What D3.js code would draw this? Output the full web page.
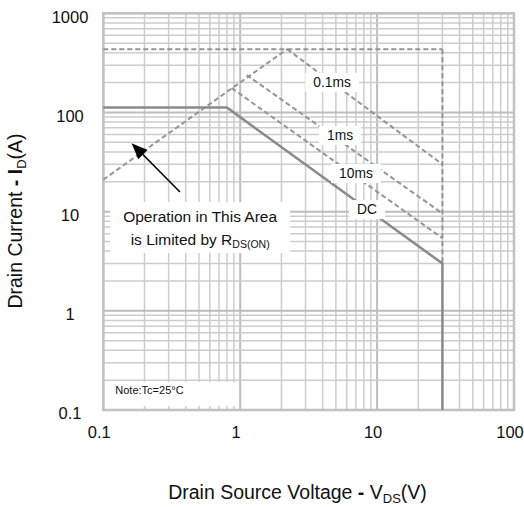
<!DOCTYPE html>
<html>
<head>
<meta charset="utf-8">
<script src="https://cdn.jsdelivr.net/npm/d3@7"></script>
<style>
  body { margin: 0; background: #fff; }
  svg { display: block; font-family: "Liberation Sans", Arial, sans-serif; }
</style>
</head>
<body>
<div id="wrapper"></div>
<script>
// tick labels
const xTickValues = [0.1, 1, 10, 100]
const yTickValues = [0.1, 1, 10, 100, 1000]

// SOA boundaries, [V, A]
const rdsLimit = [[0.1, 21], [2.2, 435]]
const currentLimit = [[0.1, 435], [30, 435]]
const voltageLimit = [[30, 435], [30, 3]]
const pulse01ms = [[2.2, 435], [30, 30]]
const pulse1ms = [[1.115, 239], [30, 9.6]]
const pulse10ms = [[0.867, 176], [30, 5.4]]
const dcLine = [[0.1, 112], [0.8, 112], [30, 3], [30, 0.1]]

// curve labels sit on their lines
const curveLabels = ["0.1ms", "1ms", "10ms", "DC"]
const curveLabelV = [4.69, 5.36, 7.01, 8.44]
const curveLabelI = [203, 59.3, 24.5, 10.6]

function drawSOA() {
  const dimensions = {
    width: 524,
    height: 507,
    margin: { top: 13.3, right: 10, bottom: 97, left: 103.3 },
  }
  dimensions.boundedWidth = dimensions.width - dimensions.margin.left - dimensions.margin.right
  dimensions.boundedHeight = dimensions.height - dimensions.margin.top - dimensions.margin.bottom

  const wrapper = d3.select("#wrapper")
    .append("svg")
      .attr("width", dimensions.width)
      .attr("height", dimensions.height)

  const bounds = wrapper.append("g")
      .attr("transform", `translate(${dimensions.margin.left},${dimensions.margin.top})`)

  // scales
  const xScale = d3.scaleLog()
    .domain([0.1, 100])
    .range([0, dimensions.boundedWidth])

  const yScale = d3.scaleLog()
    .domain([0.1, 1000])
    .range([dimensions.boundedHeight, 0])

  const isDecade = v => Math.abs(Math.log10(v) - Math.round(Math.log10(v))) < 1e-6

  // grid
  const grid = bounds.append("g")
  grid.selectAll(".vgrid")
    .data(xScale.ticks())
    .join("line")
      .attr("x1", d => xScale(d))
      .attr("x2", d => xScale(d))
      .attr("y1", 0)
      .attr("y2", dimensions.boundedHeight)
      .attr("stroke", d => isDecade(d) ? "#bdbdbd" : "#cdcdcd")
      .attr("stroke-width", d => isDecade(d) ? 2 : 1.5)

  grid.selectAll(".hgrid")
    .data(yScale.ticks())
    .join("line")
      .attr("y1", d => yScale(d))
      .attr("y2", d => yScale(d))
      .attr("x1", 0)
      .attr("x2", dimensions.boundedWidth)
      .attr("stroke", d => isDecade(d) ? "#bdbdbd" : "#cdcdcd")
      .attr("stroke-width", d => isDecade(d) ? 2 : 1.5)

  bounds.append("rect")
      .attr("width", dimensions.boundedWidth)
      .attr("height", dimensions.boundedHeight)
      .attr("fill", "none")
      .attr("stroke", "#c2c2c2")
      .attr("stroke-width", 2.5)

  // box that blanks the grid behind the temperature note
  const noteBox = bounds.append("g")
  noteBox.append("rect")
      .attr("x", 2)
      .attr("y", yScale(0.2) + 2)
      .attr("width", xScale(0.92))
      .attr("height", dimensions.boundedHeight - yScale(0.2) - 6)
      .attr("fill", "#fff")
  noteBox.append("text")
      .attr("x", 12)
      .attr("y", yScale(0.2) + 14)
      .attr("font-size", 11)
      .attr("fill", "#111")
      .text("Note:Tc=25°C")

  // boundary lines
  const line = d3.line()
    .x(d => xScale(d[0]))
    .y(d => yScale(d[1]))

  const dashed = [rdsLimit, currentLimit, voltageLimit, pulse01ms, pulse1ms, pulse10ms]
  bounds.selectAll(".dashed")
    .data(dashed)
    .join("path")
      .attr("d", line)
      .attr("fill", "none")
      .attr("stroke", "#959595")
      .attr("stroke-width", 2)
      .attr("stroke-dasharray", "5,3")

  bounds.append("path")
      .datum(dcLine)
      .attr("d", line)
      .attr("fill", "none")
      .attr("stroke", "#8a8a8a")
      .attr("stroke-width", 2.5)

  // curve labels
  const labels = bounds.selectAll(".curve-label")
    .data(curveLabels)
    .join("g")
      .attr("transform", (d, i) => `translate(${xScale(curveLabelV[i])},${yScale(curveLabelI[i])})`)
  labels.append("text")
      .attr("text-anchor", "middle")
      .attr("dy", "0.36em")
      .attr("font-size", 13.8)
      .attr("fill", "#111")
      .text(d => d)
  labels.insert("rect", "text")
      .each(function() {
        const b = this.parentNode.querySelector("text").getBBox()
        d3.select(this)
          .attr("x", b.x - 8)
          .attr("y", b.y - 2)
          .attr("width", b.width + 16)
          .attr("height", b.height + 4)
      })
      .attr("fill", "#fff")

  // R_DS(on) note
  const rdsNote = bounds.append("g")
  const noteX = xScale(0.51)
  rdsNote.append("rect")
      .attr("x", noteX - 90)
      .attr("y", yScale(12.5))
      .attr("width", 180)
      .attr("height", 51)
      .attr("fill", "#fff")
  rdsNote.append("text")
      .attr("x", noteX)
      .attr("y", yScale(8.9))
      .attr("dy", "0.36em")
      .attr("text-anchor", "middle")
      .attr("font-size", 15.5)
      .attr("fill", "#111")
      .text("Operation in This Area")
  const line2 = rdsNote.append("text")
      .attr("x", noteX)
      .attr("y", yScale(5.3))
      .attr("dy", "0.36em")
      .attr("text-anchor", "middle")
      .attr("font-size", 15.5)
      .attr("fill", "#111")
  line2.append("tspan").text("is Limited by R")
  line2.append("tspan").attr("font-size", 10.5).attr("dy", 3).text("DS(ON)")

  // arrow
  const arrowFrom = [0.363, 15.8]
  const arrowTo = [0.161, 49]
  const ax1 = xScale(arrowFrom[0]), ay1 = yScale(arrowFrom[1])
  const ax2 = xScale(arrowTo[0]), ay2 = yScale(arrowTo[1])
  const ang = Math.atan2(ay2 - ay1, ax2 - ax1)
  const headLen = 16, headHalf = 6.5
  const bx = ax2 - headLen * Math.cos(ang), by = ay2 - headLen * Math.sin(ang)
  bounds.append("line")
      .attr("x1", ax1).attr("y1", ay1)
      .attr("x2", bx).attr("y2", by)
      .attr("stroke", "#000")
      .attr("stroke-width", 1.6)
  bounds.append("path")
      .attr("d", `M${ax2},${ay2}L${bx + headHalf * Math.sin(ang)},${by - headHalf * Math.cos(ang)}L${bx - headHalf * Math.sin(ang)},${by + headHalf * Math.cos(ang)}Z`)
      .attr("fill", "#000")

  // tick labels
  bounds.append("g")
    .selectAll("text")
    .data(yTickValues)
    .join("text")
      .attr("x", -33.3)
      .attr("y", d => yScale(d) + 3.5)
      .attr("dy", "0.36em")
      .attr("text-anchor", "middle")
      .attr("font-size", 16.5)
      .attr("fill", "#111")
      .text(d => d)

  bounds.append("g")
    .selectAll("text")
    .data(xTickValues)
    .join("text")
      .attr("x", d => xScale(d) - 4)
      .attr("y", dimensions.boundedHeight + 22)
      .attr("dy", "0.36em")
      .attr("text-anchor", "middle")
      .attr("font-size", 16.5)
      .attr("fill", "#111")
      .text(d => d)

  // axis titles
  const xTitle = wrapper.append("text")
      .attr("x", 297.5)
      .attr("y", 492)
      .attr("dy", "0.36em")
      .attr("text-anchor", "middle")
      .attr("font-size", 19.5)
      .attr("fill", "#111")
  xTitle.append("tspan").text("Drain Source Voltage ")
  xTitle.append("tspan").attr("font-weight", "bold").text("-")
  xTitle.append("tspan").text(" V")
  xTitle.append("tspan").attr("font-size", 13).attr("dy", 4).text("DS")
  xTitle.append("tspan").attr("dy", -4).text("(V)")

  const yTitle = wrapper.append("text")
      .attr("transform", "translate(15,221) rotate(-90)")
      .attr("dy", "0.36em")
      .attr("text-anchor", "middle")
      .attr("font-size", 19.5)
      .attr("fill", "#111")
  yTitle.append("tspan").text("Drain Current ")
  yTitle.append("tspan").attr("font-weight", "bold").text("- I")
  yTitle.append("tspan").attr("font-size", 13).attr("dy", 4).text("D")
  yTitle.append("tspan").attr("dy", -4).text("(A)")
}

drawSOA()
</script>
</body>
</html>
